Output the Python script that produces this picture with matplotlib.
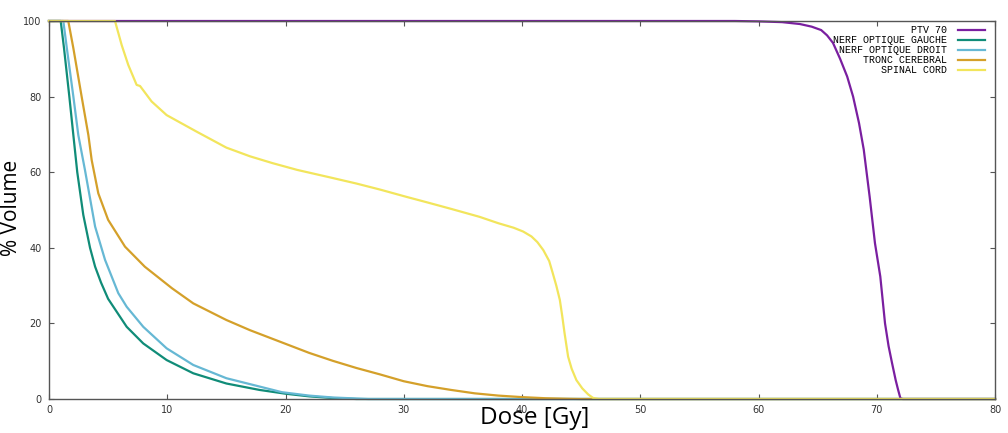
import matplotlib
matplotlib.use('Agg')
import matplotlib.pyplot as plt

# dose [Gy] / volume [%]
ptv_dose = [0, 58, 60, 62, 63.5, 64.5, 65.3, 65.8, 66.3, 66.9, 67.5, 68.0, 68.5,
            68.9, 69.4, 69.85, 70.3, 70.7, 71.0, 71.3, 71.6, 71.8, 72.0, 72.2, 80]
ptv_vol = [100, 100, 99.9, 99.7, 99.2, 98.5, 97.6, 96.2, 94.2, 90, 85.3, 80, 73,
           66, 53.5, 41.2, 32.4, 20, 14, 9.4, 5, 2.5, 0.2, 0, 0]

gauche_dose = [0, 0.99, 1.27, 1.72, 2.06, 2.39, 2.9, 3.47, 3.9, 4.4, 5.0, 6.57,
               7.97, 9.95, 12.2, 15.0, 17.8, 20, 22, 24, 26, 80]
gauche_vol = [100, 100, 92.8, 80, 69.8, 60, 48.7, 40, 35, 30.8, 26.5, 19.1,
              14.7, 10.3, 6.8, 4.1, 2.4, 1.4, 0.7, 0.25, 0, 0]

droit_dose = [0, 1.21, 1.5, 2.06, 2.48, 3.04, 3.9, 4.74, 5.86, 6.57, 7.97, 9.95,
              12.2, 15.0, 17.8, 19.7, 22, 24, 27, 80]
droit_vol = [100, 100, 93, 80, 69.8, 60.6, 45.6, 36.8, 28.0, 24.4, 19.1, 13.4,
             9.0, 5.5, 3.3, 1.8, 0.9, 0.4, 0, 0]

tronc_dose = [0, 1.63, 2.06, 2.76, 3.33, 3.61, 4.17, 5.0, 6.43, 8.1, 10.4, 12.2,
              15, 17, 19.5, 22, 24, 26, 28, 30, 32, 34, 36, 38, 40, 42, 44, 45, 80]
tronc_vol = [100, 100, 92.8, 80, 69.8, 63.2, 54.4, 47.4, 40.3, 35.0, 29.3, 25.3,
             20.9, 18.2, 15.2, 12.2, 10.1, 8.2, 6.5, 4.7, 3.4, 2.4, 1.5, 0.9,
             0.5, 0.2, 0.05, 0, 0]

spinal_dose = [0, 5.58, 6.15, 6.7, 7.41, 7.7, 8.68, 9.95, 12.5, 15, 17, 18.9, 21,
               23.8, 26, 28, 30.2, 32, 34, 36.4, 38, 39.3, 40.1, 40.8, 41.3,
               41.8, 42.3, 42.6, 42.9, 43.2, 43.4, 43.6, 43.9, 44.2, 44.6, 45.1,
               45.6, 46.0, 46.5, 80]
spinal_vol = [100, 100, 93.6, 88.4, 83.1, 82.8, 78.7, 75.1, 70.7, 66.5, 64.2, 62.4,
              60.6, 58.6, 57.0, 55.4, 53.5, 52, 50.3, 48.2, 46.5, 45.3, 44.3, 43,
              41.5, 39.4, 36.5, 33.3, 30, 26.2, 22, 17.4, 11.2, 8, 5.0, 2.8,
              1.2, 0.3, 0, 0]

labels = ['PTV 70', 'NERF OPTIQUE GAUCHE', 'NERF OPTIQUE DROIT',
          'TRONC CEREBRAL', 'SPINAL CORD']
colors = ['#7a1fa0', '#108c78', '#66b8d4', '#d4a02a', '#f2e55c']

series = [(ptv_dose, ptv_vol), (gauche_dose, gauche_vol), (droit_dose, droit_vol),
          (tronc_dose, tronc_vol), (spinal_dose, spinal_vol)]

fig = plt.figure(figsize=(10.08, 4.33), dpi=100)
ax = fig.add_axes([49/1008, 1 - 399/433, (995 - 49)/1008, (399 - 21)/433])

for (d, v), lab, c in zip(series, labels, colors):
    ax.plot(d, v, color=c, lw=1.6, label=lab, clip_on=False)

ax.set_xlim(0, 80)
ax.set_ylim(0, 100)
ax.set_xticks(range(0, 81, 10))
ax.set_yticks(range(0, 101, 20))
ax.tick_params(direction='in', top=True, right=True, length=3.5, width=0.8,
               colors='#555555', labelcolor='#333333', labelsize=7)
ax.tick_params(axis='y', pad=5.5)
ax.tick_params(axis='x', pad=4.5)
for s in ax.spines.values():
    s.set_color('#555555')
    s.set_linewidth(1)

ax.set_xlabel('Dose [Gy]', family='Open Sans', fontsize=17.5)
ax.xaxis.set_label_coords(0.513, -7/378)
ax.set_ylabel('% Volume', family='Open Sans', fontsize=15)
ax.yaxis.set_label_coords(-27/946, 0.505)

leg = ax.legend(loc='upper right', markerfirst=False, frameon=False,
                prop={'family': 'Liberation Mono', 'size': 7.2},
                handlelength=2.7, handletextpad=1.1, labelspacing=0.0,
                bbox_to_anchor=(1 - 6/946, 1), borderaxespad=0)

fig.savefig('out.png', dpi=100)
